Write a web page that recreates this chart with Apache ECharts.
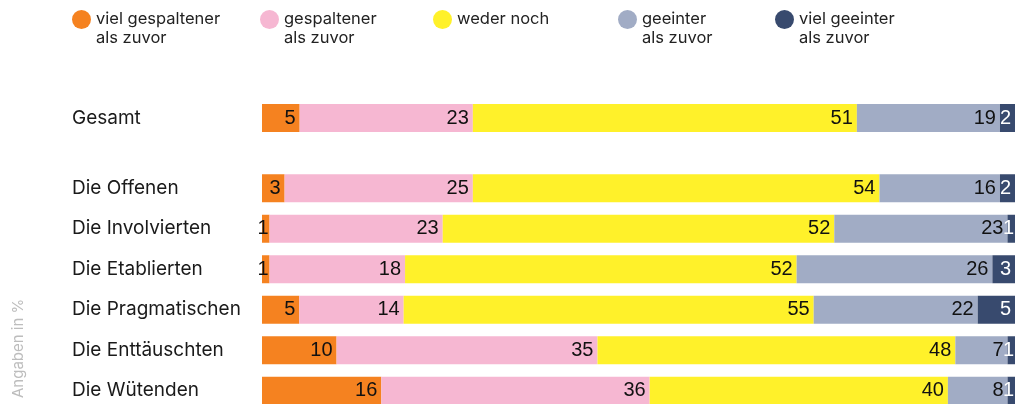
<!DOCTYPE html>
<html>
<head>
<meta charset="utf-8">
<script src="https://cdn.jsdelivr.net/npm/echarts@6/dist/echarts.min.js"></script>
<style>
  html, body { margin: 0; padding: 0; background: #fff; }
  #myChart { width: 1016px; height: 404px; }
</style>
</head>
<body>
<div id="myChart"></div>
<script>
// Kategorien
var totalCategory = ['Gesamt'];
var categories = ['Die Offenen', 'Die Involvierten', 'Die Etablierten', 'Die Pragmatischen', 'Die Enttäuschten', 'Die Wütenden'];

// Werte Gesamt (Reihenfolge wie die Legende)
var totalValues = [5, 23, 51, 19, 2];

// Werte je Typ
var vielGespaltener = [3, 1, 1, 5, 10, 16];
var gespaltener = [25, 23, 18, 14, 35, 36];
var wederNoch = [54, 52, 52, 55, 48, 40];
var geeinter = [16, 23, 26, 22, 7, 8];
var vielGeeinter = [2, 1, 3, 5, 1, 1];

var seriesNames = ['viel gespaltener', 'gespaltener', 'weder noch', 'geeinter', 'viel geeinter'];
var legendTexts = ['viel gespaltener\nals zuvor', 'gespaltener\nals zuvor', 'weder noch', 'geeinter\nals zuvor', 'viel geeinter\nals zuvor'];
var colors = ['#F58220', '#F6B7D2', '#FFF12A', '#A1ACC5', '#384A6E'];
var legendLeft = [72, 260, 433, 618, 775];

var rows = [vielGespaltener, gespaltener, wederNoch, geeinter, vielGeeinter];

// Summe je Zeile, damit jeder Balken auf 100 % endet
var rowSums = categories.map(function (c, i) {
    return rows.reduce(function (s, r) { return s + r[i]; }, 0);
});
var totalSum = totalValues.reduce(function (s, v) { return s + v; }, 0);

var labelFont = '"Liberation Sans", Arial, sans-serif';
var textFont = 'Inter, "Noto Sans", sans-serif';

function makeLabel(k) {
    return {
        show: true,
        position: 'insideRight',
        distance: 4,
        fontSize: 20,
        fontFamily: labelFont,
        color: k === 4 ? '#ffffff' : '#111111',
        formatter: function (p) { return p.data.raw; }
    };
}

function makeItem(v, sum) {
    var item = { value: v / sum * 100, raw: v };
    if (v < 2) item.label = { distance: 1 };
    return item;
}

var series = [];
seriesNames.forEach(function (name, k) {
    series.push({
        name: name,
        type: 'bar',
        stack: 'gesamt',
        xAxisIndex: 0,
        yAxisIndex: 0,
        barWidth: 28,
        itemStyle: { color: colors[k] },
        label: makeLabel(k),
        silent: true,
        data: [makeItem(totalValues[k], totalSum)]
    });
    series.push({
        name: name,
        type: 'bar',
        stack: 'typen',
        xAxisIndex: 1,
        yAxisIndex: 1,
        barWidth: 28,
        itemStyle: { color: colors[k] },
        label: makeLabel(k),
        silent: true,
        data: rows[k].map(function (v, i) { return makeItem(v, rowSums[i]); })
    });
});

var legends = seriesNames.map(function (name, k) {
    return {
        data: [name],
        left: legendLeft[k],
        top: -9,
        padding: 0,
        icon: 'circle',
        itemWidth: 19,
        itemHeight: 19,
        itemGap: 0,
        selectedMode: false,
        formatter: function () {
            var t = legendTexts[k];
            return t.indexOf('\n') >= 0 ? '\n' + t : '\n' + t + '\n ';
        },
        textStyle: {
            fontSize: 16.5,
            lineHeight: 19,
            fontFamily: textFont,
            color: '#222222'
        }
    };
});

var yLabel = {
    margin: 190,
    align: 'left',
    fontSize: 19,
    fontFamily: textFont,
    color: '#1a1a1a'
};

var myChart = echarts.init(document.getElementById('myChart'), null, { renderer: 'canvas' });

var option = {
    animation: false,
    legend: legends,
    grid: [
        { left: 262, right: 1, top: 104, height: 28, outerBoundsMode: 'none' },
        { left: 262, right: 1, top: 168, height: 243, outerBoundsMode: 'none' }
    ],
    xAxis: [
        { gridIndex: 0, type: 'value', min: 0, max: 100, show: false },
        { gridIndex: 1, type: 'value', min: 0, max: 100, show: false }
    ],
    yAxis: [
        {
            gridIndex: 0, type: 'category', data: totalCategory,
            axisLine: { show: false }, axisTick: { show: false }, axisLabel: yLabel
        },
        {
            gridIndex: 1, type: 'category', data: categories, inverse: true,
            axisLine: { show: false }, axisTick: { show: false }, axisLabel: yLabel
        }
    ],
    graphic: [{
        type: 'text',
        x: 11,
        y: 398,
        rotation: Math.PI / 2,
        style: {
            text: 'Angaben in %',
            fontSize: 15,
            fontFamily: textFont,
            fill: '#bdbdbd'
        }
    }],
    series: series
};

myChart.setOption(option);

window.onresize = function () {
    myChart.resize();
};
</script>
</body>
</html>
